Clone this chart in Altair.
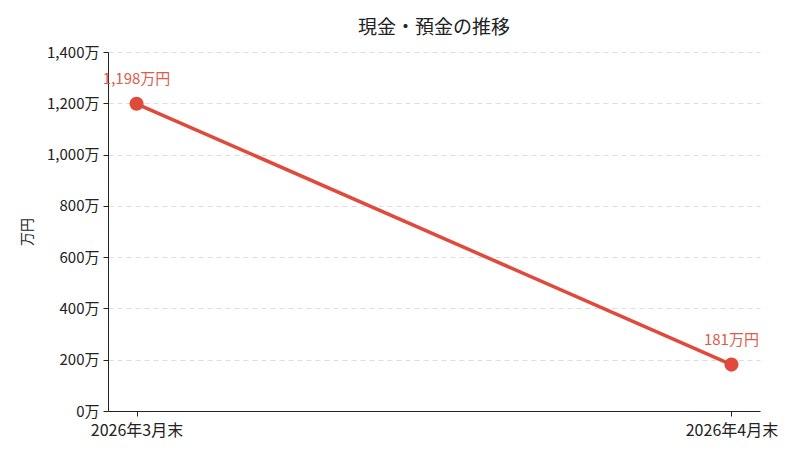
import altair as alt
import pandas as pd

periods = ["2026年3月末", "2026年4月末"]
values = [1198, 181]
labels = ["1,198万円", "181万円"]

df = pd.DataFrame({"period": periods, "value": values, "label": labels})

FONT = "Noto Sans CJK JP"
RED = "#e04a3a"

x = alt.X("period:O", sort=periods,
          scale=alt.Scale(type="point", padding=0.048),
          axis=alt.Axis(title=None, labelAngle=0, labelFontSize=16, labelColor="#222",
                        domainColor="#222", tickColor="#222", tickSize=5, labelPadding=6,
                        grid=False))
y = alt.Y("value:Q", scale=alt.Scale(domain=[0, 1400], nice=False),
          axis=alt.Axis(title="万円", titleFontSize=14, titleFontWeight="normal", titleColor="#222",
                        values=list(range(0, 1401, 200)),
                        labelExpr="format(datum.value, ',') + '万'",
                        labelFontSize=15, labelColor="#222", domainColor="#222", tickColor="#222",
                        tickSize=5, labelPadding=4, grid=True, gridDash=[5, 4],
                        gridColor="#dddddd", titlePadding=12))

base = alt.Chart(df)
line = base.mark_line(color=RED, strokeWidth=3.5).encode(x=x, y=y)
pts = base.mark_circle(color=RED, size=200, opacity=1).encode(x=x, y=y)
txt = base.mark_text(color="#dd5b4d", fontSize=15, font=FONT, dy=-25).encode(x=x, y=y, text="label:N")

chart = (line + pts + txt).properties(
    width=652, height=359,
    title=alt.TitleParams("現金・預金の推移", fontSize=19, fontWeight="normal", font=FONT,
                          color="#222", offset=7),
    autosize=alt.AutoSizeParams(type="none"),
    padding={"left": 100, "top": 44, "right": 32, "bottom": 38},
).configure(font=FONT).configure_view(stroke=None).configure_axis(labelFont=FONT, titleFont=FONT)

chart.save("out.html", embed_options={"renderer": "svg", "actions": False})
